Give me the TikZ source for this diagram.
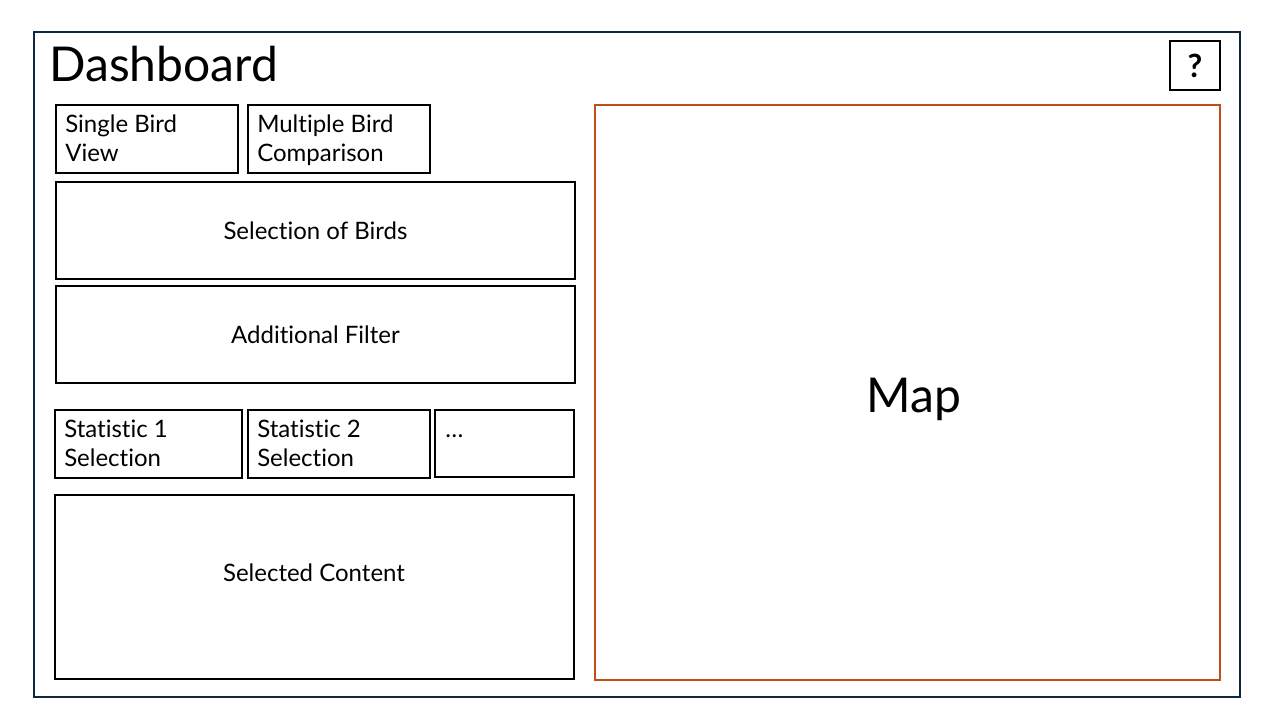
\documentclass[tikz,border=0pt]{standalone}
\usepackage{fontspec}
\setmainfont{Lato}[Ligatures={NoCommon}]
\definecolor{frame}{HTML}{0E2841}
\definecolor{maporange}{HTML}{C04F15}
\begin{document}
\begin{tikzpicture}[x=0.75pt,y=-0.75pt,
  box/.style={draw=black,line width=1.5pt,rectangle,inner sep=0pt,outer sep=0pt,anchor=north west},
  txt/.style={inner sep=0pt,align=left,font=\fontsize{18}{21.75}\selectfont},
  ctxt/.style={inner sep=0pt,font=\fontsize{18}{21.75}\selectfont}]
\fill[white] (0,0) rectangle (1280,720);
\useasboundingbox (0,0) rectangle (1280,720);
% outer frame
\node[box,draw=frame,minimum width=904.5pt,minimum height=498.75pt] (frm) at (34,32) {};
\node[inner sep=0pt,anchor=base west,font=\fontsize{36}{40}\selectfont] (title) at (49,82) {Dashboard};
% help
\node[box,minimum width=37.5pt,minimum height=36.75pt] (help) at (1170,41) {};
\node[inner sep=0pt,font=\fontsize{24}{26}\selectfont\bfseries] (q) at (help.center) {?};
% map
\node[box,draw=maporange,minimum width=468.75pt,minimum height=431.25pt] (map) at (595,105) {};
\node[inner sep=0pt,anchor=base,font=\fontsize{36}{40}\selectfont] (maptxt) at (914,412) {Map};
% view tabs
\node[box,minimum width=136.5pt,minimum height=51pt] (sbv) at (56,105) {};
\node[txt,anchor=north west] (sbvt) at (65,115) {Single Bird\\View};
\node[box,minimum width=136.5pt,minimum height=51pt] (mbc) at (248,105) {};
\node[txt,anchor=north west] (mbct) at (257,115) {Multiple Bird\\Comparison};
% selection / filter
\node[box,minimum width=389.25pt,minimum height=72.75pt] (sob) at (56,182) {};
\node[ctxt] (sobt) at (sob.center) {Selection of Birds};
\node[box,minimum width=389.25pt,minimum height=72.75pt] (af) at (56,286) {};
\node[ctxt] (aft) at (af.center) {Additional Filter};
% statistics
\node[box,minimum width=140.25pt,minimum height=51pt] (s1) at (55,410) {};
\node[txt,anchor=north west] (s1t) at (64,420) {Statistic 1\\Selection};
\node[box,minimum width=136.5pt,minimum height=51pt] (s2) at (248,410) {};
\node[txt,anchor=north west] (s2t) at (257,420) {Statistic 2\\Selection};
\node[box,minimum width=104.25pt,minimum height=50.25pt] (s3) at (435,410) {};
\node[txt,anchor=base west] (s3t) at (445,437) {\dots};
% selected content
\node[box,minimum width=389.25pt,minimum height=138pt] (sc) at (55,495) {};
\node[ctxt] (sct) at (314,573) {Selected Content};
\end{tikzpicture}
\end{document}
